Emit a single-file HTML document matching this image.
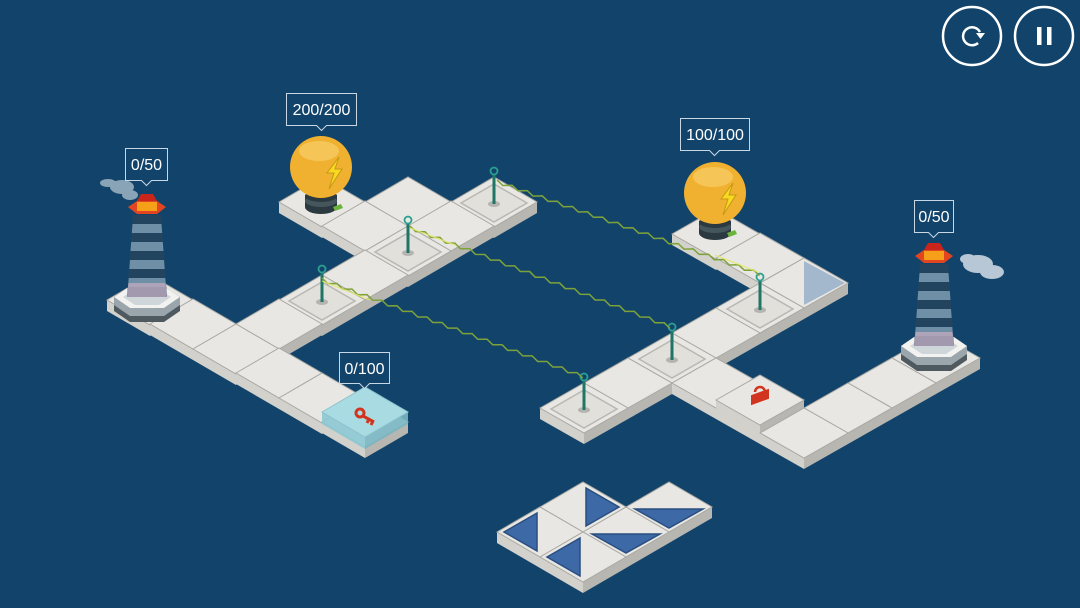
<!DOCTYPE html>
<html><head><meta charset="utf-8"><style>
html,body{margin:0;padding:0;background:#12446b;width:1080px;height:608px;overflow:hidden}
svg{display:block}
.tp{fill:#e8e7e3;stroke:#a9a8a3;stroke-width:1}
.sl{fill:#d3d1cc}
.sr{fill:#b8b6b1}
text{font-family:"Liberation Sans",sans-serif;font-size:16px;fill:#fff}
</style></head><body>
<svg width="1080" height="608" viewBox="0 0 1080 608" xmlns="http://www.w3.org/2000/svg">
<defs>
<g id="t43"><polygon class="sl" points="-43,0 0,25 0,36 -43,11"/><polygon class="sr" points="0,25 43,0 43,11 0,36"/><polygon class="tp" points="-43,0 0,-25 43,0 0,25"/></g>
<g id="t44"><polygon class="sl" points="-44,0 0,25 0,36 -44,11"/><polygon class="sr" points="0,25 44,0 44,11 0,36"/><polygon class="tp" points="-44,0 0,-25 44,0 0,25"/></g>
<g id="pin"><polygon points="-33,1 0,-18 33,1 0,20" fill="#e2e0da" stroke="#b9b7b1" stroke-width="1.5"/><ellipse cx="0" cy="2" rx="6" ry="3" fill="#b5b4b0"/><line x1="0" y1="2" x2="0" y2="-27" stroke="#1f7566" stroke-width="3"/><circle cx="0" cy="-31" r="3.5" fill="none" stroke="#2aa092" stroke-width="1.8"/></g>
<g id="bulb"><ellipse cx="0" cy="40" rx="16" ry="7" fill="#2b3a40"/><rect x="-16" y="28" width="32" height="12" fill="#2b3a40"/><ellipse cx="0" cy="34" rx="16" ry="6" fill="#45565c"/><ellipse cx="0" cy="29" rx="16" ry="6" fill="#2b3a40"/><path d="M12,40 l8,-3 l2,4 l-8,3z" fill="#6bb33a"/><circle cx="0" cy="0" r="31" fill="#f0b030"/><ellipse cx="-2" cy="-16" rx="20" ry="10" fill="#f6c557"/><polygon points="18,-10 6,6 13,6 8,22 21,2 14,2" fill="#f6da20" stroke="#c89618" stroke-width="1"/></g>
<g id="lh">
<polygon points="-33,-6 -17,-17 17,-17 33,-6 33,8 17,19 -17,19 -33,8" fill="#4f5a60"/>
<polygon points="-33,-6 -17,5 17,5 33,-6 33,2 17,13 -17,13 -33,2" fill="#9aa6ac"/>
<polygon points="-33,-6 -17,-17 17,-17 33,-6 17,5 -17,5" fill="#f2f2f0"/>
<polygon points="-24,-6 -12,-14 12,-14 24,-6 12,2 -12,2" fill="#cfd6da"/>
<polygon points="-14,-88 14,-88 20,-6 -20,-6" fill="#23445f"/>
<polygon points="-14.5,-79 14.5,-79 15.2,-70 -15.2,-70" fill="#6f8fa6"/>
<polygon points="-15.8,-61 15.8,-61 16.5,-52 -16.5,-52" fill="#6f8fa6"/>
<polygon points="-17,-43 17,-43 17.7,-34 -17.7,-34" fill="#6f8fa6"/>
<polygon points="-18.3,-25 18.3,-25 19,-16 -19,-16" fill="#6f8fa6"/>
<polygon points="-18.5,-20 18.5,-20 20,-6 -20,-6" fill="#b8a8bc" opacity="0.85"/>
<polygon points="-19,-96 -10,-102 10,-102 19,-96 10,-89 -10,-89" fill="#e2451f"/>
<polygon points="-10,-101 10,-101 10,-92 -10,-92" fill="#f6a01a"/>
<polygon points="-10,-102 -6,-109 6,-109 10,-102" fill="#c9251a"/>
</g>
<path id="wave" d="M0,0 l5.8,5.5 l9.3,-0.2 l5.8,5.5 l9.3,-0.2 l5.8,5.5 l9.3,-0.2 l5.8,5.5 l9.3,-0.2 l5.8,5.5 l9.3,-0.2 l5.8,5.5 l9.3,-0.2 l5.8,5.5 l9.3,-0.2 l5.8,5.5 l9.3,-0.2 l5.8,5.5 l9.3,-0.2 l5.8,5.5 l9.3,-0.2 l5.8,5.5 l9.3,-0.2 l5.8,5.5 l9.3,-0.2 l5.8,5.5 l9.3,-0.2 l5.8,5.5 l9.3,-0.2 l5.8,5.5 l9.3,-0.2 l5.8,5.5 l9.3,-0.2 l5.8,5.5 l9.3,-0.2 l5.8,5.5"/>
</defs>

<!-- left structure -->
<use href="#t43" x="494" y="202"/>
<use href="#t43" x="322" y="202"/>
<use href="#t43" x="408" y="202"/>
<use href="#t43" x="451" y="226"/>
<use href="#t43" x="365" y="226"/>
<use href="#t43" x="408" y="251"/>
<use href="#t43" x="365" y="275"/>
<use href="#t43" x="322" y="300"/>
<use href="#t43" x="150" y="300"/>
<use href="#t43" x="279" y="324"/>
<use href="#t43" x="193" y="324"/>
<use href="#t43" x="236" y="349"/>
<use href="#t43" x="279" y="373"/>
<use href="#t43" x="322" y="398"/>
<use href="#t43" x="365" y="422"/>
<!-- key block -->
<polygon points="322,412 365,437 365,449 322,424" fill="#8cc8d2" opacity="0.9"/>
<polygon points="365,437 408,412 408,424 365,449" fill="#79b6c2" opacity="0.9"/>
<polygon points="322,412 365,387 408,412 365,437" fill="#a9dbe3" stroke="#8cc3cc"/>
<g transform="translate(365,417)" fill="none" stroke="#d2351f" stroke-width="3">
<circle cx="-5" cy="-4" r="4"/><line x1="-2" y1="-1" x2="9" y2="5"/><line x1="4" y1="2" x2="2" y2="6"/><line x1="8" y1="4" x2="6" y2="8"/>
</g>
<use href="#pin" x="494" y="202"/>
<use href="#pin" x="408" y="251"/>
<use href="#pin" x="322" y="300"/>

<!-- right structure -->
<use href="#t44" x="716" y="234"/>
<use href="#t44" x="760" y="258"/>
<use href="#t44" x="804" y="283"/>
<polygon points="804,261 845,283 804,305" fill="#a3b7cd"/>
<use href="#t44" x="760" y="308"/>
<use href="#t44" x="716" y="333"/>
<use href="#t44" x="936" y="358"/>
<use href="#t44" x="672" y="358"/>
<use href="#t44" x="628" y="383"/>
<use href="#t44" x="716" y="383"/>
<use href="#t44" x="892" y="383"/>
<use href="#t44" x="584" y="408"/>
<use href="#t44" x="848" y="408"/>
<use href="#t44" x="760" y="408"/>
<!-- lock raised -->
<polygon points="716,400 760,425 760,436 716,411" fill="#d3d1cc"/>
<polygon points="760,425 804,400 804,411 760,436" fill="#b8b6b1"/>
<polygon points="716,400 760,375 804,400 760,425" fill="#e8e7e3" stroke="#a9a8a3"/>
<g transform="translate(760,395)"><path d="M-5,-3 a5,5 0 0 1 10,0" fill="none" stroke="#d2351f" stroke-width="2.5"/><polygon points="-9,-3 9,-3 9,7 -9,7" fill="#d2351f" transform="skewY(-20)"/></g>
<use href="#t44" x="804" y="433"/>
<use href="#pin" x="760" y="308"/>
<use href="#pin" x="672" y="358"/>
<use href="#pin" x="584" y="408"/>

<!-- wires -->
<g fill="none" stroke="#7ea23a" stroke-width="1.5">
<use href="#wave" x="497" y="180"/>
<use href="#wave" x="410" y="226" transform="rotate(1.5 410 226)"/>
<use href="#wave" x="322" y="278" transform="rotate(1 322 278)"/>
</g>
<g fill="none" stroke="#e4e86a" stroke-width="1.4" opacity="0.8">
<line x1="410" y1="228" x2="455" y2="245"/><line x1="322" y1="281" x2="370" y2="300"/><line x1="715" y1="255" x2="758" y2="272"/>
</g>

<!-- bottom puzzle -->
<use href="#t43" x="583" y="507"/>
<use href="#t43" x="669" y="507"/>
<use href="#t43" x="540" y="532"/>
<use href="#t43" x="626" y="532"/>
<use href="#t43" x="583" y="557"/>
<g fill="#3d6aa6" stroke="#2a4e80" stroke-width="1.5">
<polygon points="586,488 619,507 586,526"/>
<polygon points="635,509 703,509 669,528"/>
<polygon points="504,532 537,513 537,551"/>
<polygon points="592,534 660,534 626,553"/>
<polygon points="547,557 580,538 580,576"/>
</g>

<!-- bulbs -->
<use href="#bulb" x="321" y="167"/>
<use href="#bulb" x="715" y="193"/>

<!-- lighthouses -->
<g fill="#a9bccb" opacity="0.8"><ellipse cx="122" cy="187" rx="12" ry="7"/><ellipse cx="108" cy="183" rx="8" ry="4"/><ellipse cx="130" cy="195" rx="8" ry="5"/></g>
<use href="#lh" x="147" y="303"/>
<g fill="#b7c7d6"><ellipse cx="978" cy="264" rx="15" ry="9"/><ellipse cx="992" cy="272" rx="12" ry="7"/><ellipse cx="968" cy="259" rx="8" ry="5"/></g>
<use href="#lh" x="934" y="352"/>

<!-- labels -->
<g fill="#12446b" stroke="#c9d7e4" stroke-width="1">
<path d="M286.5,93.5 h70 v32 h-30 l-5,5 l-5,-5 h-30 z"/>
<path d="M680.5,118.5 h69 v32 h-30 l-5,5 l-5,-5 h-29 z"/>
<path d="M125.5,148.5 h42 v32 h-16 l-5,5 l-5,-5 h-16 z"/>
<path d="M914.5,200.5 h39 v32 h-15 l-5,5 l-5,-5 h-14 z"/>
<path d="M339.5,352.5 h50 v31 h-20 l-5,5 l-5,-5 h-20 z"/>
</g>
<text x="321.5" y="115" text-anchor="middle">200/200</text>
<text x="715" y="140" text-anchor="middle">100/100</text>
<text x="146.5" y="170" text-anchor="middle">0/50</text>
<text x="934" y="222" text-anchor="middle">0/50</text>
<text x="364.5" y="374" text-anchor="middle">0/100</text>

<!-- buttons -->
<g fill="none" stroke="#fff" stroke-width="2.5">
<circle cx="972" cy="36" r="29"/><circle cx="1044" cy="36" r="29"/>
<path d="M980,32 A9,9 0 1 0 978,43" stroke-width="2.5"/>
</g>
<polygon points="976,33 985,33 980.5,39" fill="#fff"/>
<rect x="1037" y="27" width="4.5" height="18" fill="#fff"/>
<rect x="1047" y="27" width="4.5" height="18" fill="#fff"/>
</svg>
</body></html>
